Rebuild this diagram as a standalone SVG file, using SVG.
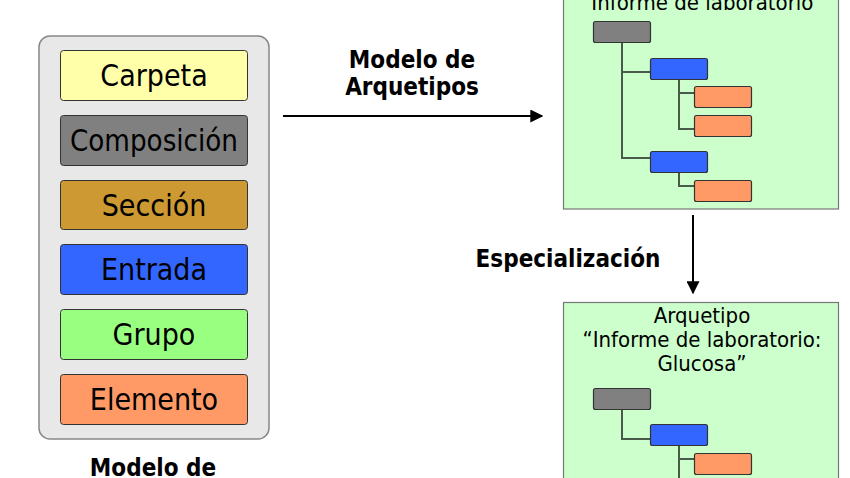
<svg xmlns="http://www.w3.org/2000/svg" width="850" height="478" viewBox="0 0 850 478">
<defs>
<style>
.lbl{font-family:"DejaVu Sans Condensed","DejaVu Sans",sans-serif;font-size:30px;fill:#000;text-anchor:middle}
.bold{font-family:"DejaVu Sans Condensed","DejaVu Sans",sans-serif;font-weight:bold;font-size:24px;fill:#000;text-anchor:middle}
.ttl{font-family:"DejaVu Sans Condensed","DejaVu Sans",sans-serif;font-size:22px;fill:#000;text-anchor:middle}
.kind{stroke:#333;stroke-width:1}
.tree{stroke:#333;stroke-width:1.2}
.tl{stroke:#4a5a4a;stroke-width:2;fill:none}
.arch{fill:#CCFFCC;stroke:#777;stroke-width:1.2}
.arrow{stroke:#000;stroke-width:2;fill:none;marker-end:url(#ah)}
</style>
<marker id="ah" viewBox="0 0 10 10" refX="9" refY="5" markerWidth="6.5" markerHeight="6.5" markerUnits="strokeWidth" orient="auto">
<path d="M0,0 L10,5 L0,10 z" fill="#000"/>
</marker>
</defs>
<rect width="850" height="478" fill="#fff"/>

<g id="refmodel">
<rect x="39" y="36" width="230" height="403" rx="11" fill="#E8E8E8" stroke="#888" stroke-width="1.5"/>
<g id="carpeta"><rect class="kind" x="60.5" y="50.5" width="187" height="50" rx="3" fill="#FFFFAA"/><text class="lbl" x="154" y="86">Carpeta</text></g>
<g id="composicion"><rect class="kind" x="60.5" y="115.5" width="187" height="50" rx="3" fill="#808080"/><text class="lbl" x="154" y="151" textLength="168" lengthAdjust="spacingAndGlyphs">Composición</text></g>
<g id="seccion"><rect class="kind" x="60.5" y="180.5" width="187" height="49" rx="3" fill="#CC9933"/><text class="lbl" x="154" y="216">Sección</text></g>
<g id="entrada"><rect class="kind" x="60.5" y="244.5" width="187" height="50" rx="3" fill="#3366FF"/><text class="lbl" x="154" y="280">Entrada</text></g>
<g id="grupo"><rect class="kind" x="60.5" y="309.5" width="187" height="50" rx="3" fill="#99FF80"/><text class="lbl" x="154" y="345">Grupo</text></g>
<g id="elemento"><rect class="kind" x="60.5" y="374.5" width="187" height="50" rx="3" fill="#FF9966"/><text class="lbl" x="154" y="410">Elemento</text></g>
<text class="bold" x="153" y="476">Modelo de</text>
</g>

<g id="arch1">
<rect class="arch" x="563.5" y="-10" width="275" height="219"/>
<text class="ttl" x="702" y="10">“Informe de laboratorio”</text>
<path class="tl" d="M622,43 V158 H651 M622,72 H651 M679,79 V129 H695 M679,93 H695 M679,172 V186 H695"/>
<rect class="tree" x="593.5" y="21.5" width="57" height="21" rx="2" fill="#808080"/>
<rect class="tree" x="650.5" y="58.5" width="57" height="21" rx="2" fill="#3366FF"/>
<rect class="tree" x="694.5" y="86.5" width="57" height="21" rx="2" fill="#FF9966"/>
<rect class="tree" x="694.5" y="115.5" width="57" height="21" rx="2" fill="#FF9966"/>
<rect class="tree" x="650.5" y="151.5" width="57" height="21" rx="2" fill="#3366FF"/>
<rect class="tree" x="694.5" y="180.5" width="57" height="21" rx="2" fill="#FF9966"/>
</g>

<g id="arch2">
<rect class="arch" x="563.5" y="302.5" width="275" height="190"/>
<text class="ttl" x="702" y="323">Arquetipo</text>
<text class="ttl" x="702" y="347">“Informe de laboratorio:</text>
<text class="ttl" x="702" y="371">Glucosa”</text>
<path class="tl" d="M622,409 V439 H651 M679,446 V490 M679,459 H695"/>
<rect class="tree" x="593.5" y="388.5" width="57" height="21" rx="2" fill="#808080"/>
<rect class="tree" x="650.5" y="424.5" width="57" height="21" rx="2" fill="#3366FF"/>
<rect class="tree" x="694.5" y="453.5" width="57" height="21" rx="2" fill="#FF9966"/>
</g>

<g id="connectors">
<line class="arrow" x1="283" y1="116" x2="542" y2="116"/>
<text class="bold" x="412" y="68">Modelo de</text>
<text class="bold" x="412" y="95">Arquetipos</text>
<line class="arrow" x1="693" y1="215" x2="693" y2="293"/>
<text class="bold" x="568" y="267">Especialización</text>
</g>
</svg>
